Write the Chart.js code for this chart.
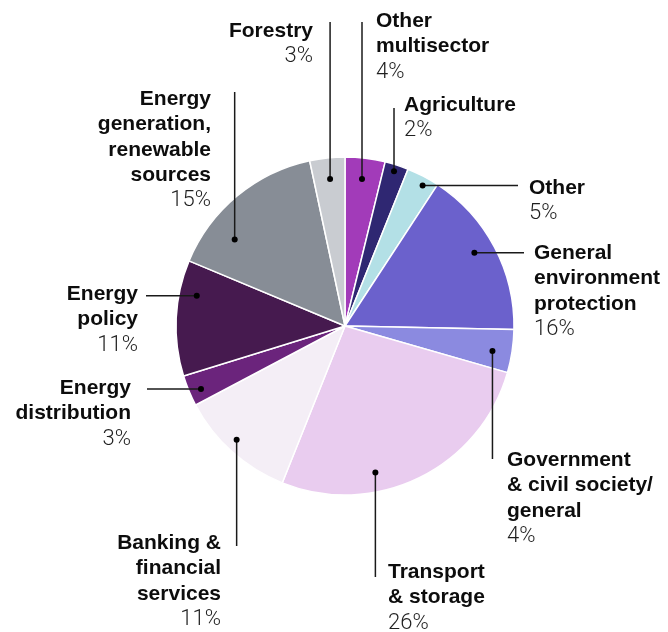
<!DOCTYPE html>
<html>
<head>
<meta charset="utf-8">
<script src="https://cdn.jsdelivr.net/npm/chart.js@4"></script>
<style>
  body { margin: 0; background: #fff; }
  #wrap { width: 668px; height: 632px; position: relative; }
</style>
</head>
<body>
<div id="wrap"><canvas id="pieChart"></canvas></div>
<script>
// categories, clockwise from 12 o'clock
const categories = [
    ['Other', 'multisector'],
    ['Agriculture'],
    ['Other'],
    ['General', 'environment', 'protection'],
    ['Government', '& civil society/', 'general'],
    ['Transport', '& storage'],
    ['Banking &', 'financial', 'services'],
    ['Energy', 'distribution'],
    ['Energy', 'policy'],
    ['Energy', 'generation,', 'renewable', 'sources'],
    ['Forestry']
];
// slice sizes
const shares = [3.82, 2.26, 3.14, 16.1, 4.12, 26.6, 11.2, 2.96, 11.07, 15.35, 3.35];
// percentages as printed on the labels
const percentLabels = ['4%', '2%', '5%', '16%', '4%', '26%', '11%', '3%', '11%', '15%', '3%'];

const sliceColors = ['#a23bb9', '#2f2772', '#b3e0e6', '#6b61cc', '#8b8ae0', '#e9ccef',
                     '#f4eef6', '#6b247c', '#461a4f', '#878d96', '#c9ccd1'];

// where each callout sits: t = position along the slice, rf = fraction of radius,
// dir = leader direction, end = where the leader stops, tx/ty = first text baseline
const callouts = [
    { t: 0.48, rf: 0.875, dir: 'v', end: 22,  tx: 376, ty: 27,  align: 'left' },
    { t: 0.47, rf: 0.96,  dir: 'v', end: 108, tx: 404, ty: 111, align: 'left' },
    { t: 0.62, rf: 0.95,  dir: 'h', end: 518, tx: 529, ty: 194, align: 'left' },
    { t: 0.47, rf: 0.88,  dir: 'h', end: 524, tx: 534, ty: 259, align: 'left' },
    { t: 0.57, rf: 0.885, dir: 'v', end: 459, tx: 507, ty: 466, align: 'left' },
    { t: 0.65, rf: 0.885, dir: 'v', end: 577, tx: 388, ty: 578, align: 'left' },
    { t: 0.54, rf: 0.93,  dir: 'v', end: 546, tx: 221, ty: 549, align: 'right' },
    { t: 0.40, rf: 0.93,  dir: 'h', end: 147, tx: 131, ty: 394, align: 'right' },
    { t: 0.72, rf: 0.895, dir: 'h', end: 146, tx: 138, ty: 300, align: 'right' },
    { t: 0.28, rf: 0.83,  dir: 'v', end: 92,  tx: 211, ty: 105, align: 'right' },
    { t: 0.52, rf: 0.875, dir: 'v', end: 22,  tx: 313, ty: 37,  align: 'right' }
];

const lineGap = 25.3;

const calloutPlugin = {
    id: 'callouts',
    afterDraw(chart) {
        const ctx = chart.ctx;
        const meta = chart.getDatasetMeta(0);
        ctx.save();
        meta.data.forEach((arc, i) => {
            const c = callouts[i];
            const p = arc.getProps(['x', 'y', 'startAngle', 'endAngle', 'outerRadius'], true);
            const a = p.startAngle + c.t * (p.endAngle - p.startAngle);
            const dx = p.x + Math.cos(a) * p.outerRadius * c.rf;
            const dy = p.y + Math.sin(a) * p.outerRadius * c.rf;

            // leader line
            ctx.strokeStyle = '#1a1a1a';
            ctx.lineWidth = 1.5;
            ctx.beginPath();
            ctx.moveTo(dx, dy);
            if (c.dir === 'v') ctx.lineTo(dx, c.end);
            else ctx.lineTo(c.end, dy);
            ctx.stroke();

            // dot
            ctx.fillStyle = '#000';
            ctx.beginPath();
            ctx.arc(dx, dy, 3, 0, Math.PI * 2);
            ctx.fill();

            // text
            ctx.textAlign = c.align;
            ctx.textBaseline = 'alphabetic';
            const names = categories[i];
            ctx.fillStyle = '#0d0d0d';
            ctx.font = 'bold 21px "Liberation Sans", Arial, sans-serif';
            names.forEach((line, k) => ctx.fillText(line, c.tx, c.ty + k * lineGap));
            ctx.fillStyle = '#1f1f1f';
            ctx.font = '300 22px Roboto, "Liberation Sans", sans-serif';
            ctx.fillText(percentLabels[i], c.tx, c.ty + names.length * lineGap);
        });
        ctx.restore();
    }
};

const ctx = document.getElementById('pieChart').getContext('2d');
new Chart(ctx, {
    type: 'pie',
    data: {
        labels: categories.map(l => l.join(' ')),
        datasets: [{
            data: shares,
            backgroundColor: sliceColors,
            borderColor: '#fff',
            borderWidth: 1.5
        }]
    },
    options: {
        responsive: true,
        maintainAspectRatio: false,
        animation: false,
        layout: {
            padding: { left: 175.25, right: 153.25, top: 156.25, bottom: 136.25 }
        },
        plugins: {
            legend: { display: false },
            tooltip: { enabled: false }
        }
    },
    plugins: [calloutPlugin]
});
</script>
</body>
</html>
